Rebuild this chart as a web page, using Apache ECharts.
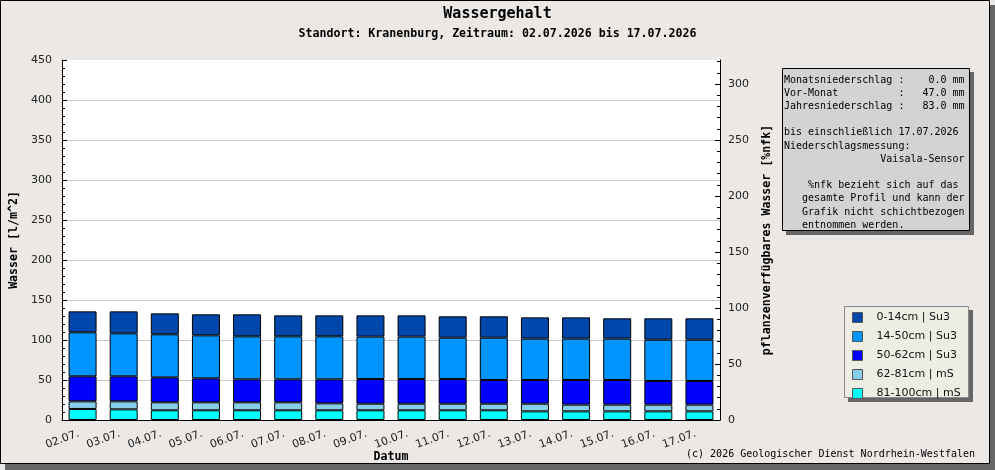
<!DOCTYPE html>
<html lang="de">
<head>
<meta charset="UTF-8">
<title>Wassergehalt</title>
<script src="https://cdn.jsdelivr.net/npm/echarts@6/dist/echarts.min.js"></script>
<style>
html, body { margin: 0; padding: 0; background: #ebe8e6; }
#main { width: 995px; height: 470px; }
</style>
</head>
<body>
<div id="main"></div>
<script>
// Kategorien (Datum)
var tage = ['02.07.', '03.07.', '04.07.', '05.07.', '06.07.', '07.07.', '08.07.', '09.07.',
            '10.07.', '11.07.', '12.07.', '13.07.', '14.07.', '15.07.', '16.07.', '17.07.'];

// Wassergehalt je Schicht [l/m^2], von unten nach oben gestapelt
var s81_100 = [13.8, 13.3, 12.1, 12.1, 12.1, 12.1, 12.1, 12.1, 12.1, 12.1, 12.1, 10.8, 10.8, 10.8, 10.8, 10.8];
var s62_81  = [9.5, 10.0, 10.0, 10.0, 10.0, 10.0, 8.7, 8.3, 8.3, 8.3, 8.3, 9.6, 8.4, 8.4, 8.4, 8.4];
var s50_62  = [31.3, 31.3, 31.2, 30.0, 28.7, 28.7, 30.0, 30.8, 30.8, 30.8, 29.6, 29.6, 30.8, 30.8, 29.6, 29.6];
var s14_50  = [55.0, 53.7, 53.8, 53.7, 53.8, 53.8, 53.8, 53.0, 53.0, 51.7, 52.9, 51.7, 51.7, 51.7, 51.6, 51.6];
var s0_14   = [26.2, 27.5, 26.2, 26.3, 27.5, 26.2, 26.2, 26.6, 26.6, 26.7, 26.7, 26.6, 26.6, 25.4, 26.7, 26.7];

// Achsenbeschriftungen rechts (%nfk)
var nfkLabels = [0, 50, 100, 150, 200, 250, 300];
var nfkMinor = [10, 20, 30, 40, 60, 70, 80, 90, 110, 120, 130, 140, 160, 170, 180, 190,
                210, 220, 230, 240, 260, 270, 280, 290, 310, 320];

var infoText = [
    'Monatsniederschlag :    0.0 mm',
    'Vor-Monat          :   47.0 mm',
    'Jahresniederschlag :   83.0 mm',
    '',
    'bis einschließlich 17.07.2026',
    'Niederschlagsmessung:',
    '                Vaisala-Sensor',
    '',
    '    %nfk bezieht sich auf das',
    '   gesamte Profil und kann der',
    '   Grafik nicht schichtbezogen',
    '   entnommen werden.'
].join('\n');

var mono = 'DejaVu Sans Mono';
var sans = 'DejaVu Sans';

var chart = echarts.init(document.getElementById('main'));

function schicht(name, data, color) {
    return {
        name: name,
        type: 'bar',
        stack: 'boden',
        barWidth: 28,
        data: data,
        itemStyle: { color: color, borderColor: '#000', borderWidth: 1 }
    };
}

chart.setOption({
    backgroundColor: 'transparent',
    animation: false,
    title: [
        {
            text: 'Wassergehalt', left: 'center', top: 7, padding: 0,
            textStyle: { fontFamily: mono, fontWeight: 'bold', fontSize: 15, color: '#000' }
        },
        {
            text: 'Standort: Kranenburg, Zeitraum: 02.07.2026 bis 17.07.2026', left: 'center', top: 28, padding: 0,
            textStyle: { fontFamily: mono, fontWeight: 'bold', fontSize: 11.6, color: '#000' }
        }
    ],
    graphic: [
        // Rahmen mit Schatten
        { type: 'rect', z: -10, shape: { x: 5, y: 5, width: 990, height: 465 }, style: { fill: '#666' } },
        { type: 'rect', z: -9, shape: { x: 0.5, y: 0.5, width: 989, height: 463 }, style: { fill: '#ebe8e6', stroke: '#000', lineWidth: 1 } },
        // Infobox
        { type: 'rect', z: 1, shape: { x: 786, y: 72, width: 188, height: 163 }, style: { fill: '#666' } },
        { type: 'rect', z: 2, shape: { x: 782.5, y: 68.5, width: 187, height: 162 }, style: { fill: '#d3d3d3', stroke: '#000', lineWidth: 1 } },
        {
            type: 'text', z: 3, left: 784, top: 73.5,
            style: { text: infoText, fontFamily: mono, fontSize: 10, lineHeight: 13.2, fill: '#000' }
        },
        // Legendenbox
        { type: 'rect', z: 1, shape: { x: 848, y: 310, width: 125, height: 92 }, style: { fill: '#666' } },
        { type: 'rect', z: 2, shape: { x: 844.5, y: 306.5, width: 124, height: 91 }, style: { fill: '#eeede4', stroke: '#888', lineWidth: 1 } },
        // Copyright
        {
            type: 'text', z: 3, right: 20, top: 449,
            style: { text: '(c) 2026 Geologischer Dienst Nordrhein-Westfalen', fontFamily: mono, fontSize: 10, fill: '#000' }
        }
    ],
    legend: {
        orient: 'vertical',
        left: 852,
        top: 312,
        padding: 0,
        itemWidth: 10,
        itemHeight: 10,
        itemGap: 8,
        icon: 'rect',
        selectedMode: false,
        data: ['0-14cm | Su3', '14-50cm | Su3', '50-62cm | Su3', '62-81cm | mS', '81-100cm | mS'],
        itemStyle: { borderColor: '#555', borderWidth: 1 },
        textStyle: { fontFamily: sans, fontSize: 11, color: '#111', lineHeight: 10, padding: [0, 0, 0, 9] }
    },
    grid: {
        left: 62, right: 275, top: 60, bottom: 50,
        outerBoundsMode: 'none',
        containLabel: false,
        show: true, backgroundColor: '#fff', borderWidth: 0
    },
    xAxis: {
        type: 'category',
        data: tage,
        name: 'Datum',
        nameLocation: 'middle',
        nameGap: 31,
        nameMoveOverlap: false,
        nameTextStyle: { fontFamily: mono, fontWeight: 'bold', fontSize: 11.6, color: '#000' },
        axisLine: { lineStyle: { color: '#000' } },
        axisTick: { inside: true, length: 5, lineStyle: { color: '#000' } },
        axisLabel: {
            rotate: 20, interval: 0, margin: 12, padding: [0, 4, 0, 0],
            fontFamily: sans, fontSize: 11, color: '#222'
        },
        splitLine: { show: false }
    },
    yAxis: [
        {
            type: 'value',
            position: 'left',
            min: 0, max: 450, interval: 50,
            name: 'Wasser [l/m^2]',
            nameLocation: 'middle',
            nameGap: 42,
            nameRotate: 90,
            nameTextStyle: { fontFamily: mono, fontWeight: 'bold', fontSize: 11.6, color: '#000' },
            axisLine: { show: true, lineStyle: { color: '#000' } },
            axisTick: { show: true, inside: true, length: 5, lineStyle: { color: '#000' } },
            minorTick: { show: true, splitNumber: 5, length: 3, lineStyle: { color: '#000' } },
            axisLabel: { margin: 10, fontFamily: sans, fontSize: 11, color: '#222' },
            splitLine: { show: true, showMaxLine: false, lineStyle: { color: '#c8c8c8' } }
        },
        {
            type: 'value',
            position: 'right',
            min: 0, max: 321.43, interval: 50,
            name: 'pflanzenverfügbares Wasser [%nfk]',
            nameLocation: 'middle',
            nameGap: 41,
            nameRotate: 90,
            nameTextStyle: { fontFamily: mono, fontWeight: 'bold', fontSize: 11.6, color: '#000' },
            axisLine: { show: true, lineStyle: { color: '#000' } },
            axisTick: { show: true, inside: true, length: 5, customValues: nfkLabels, lineStyle: { color: '#000' } },
            axisLabel: { margin: 8, customValues: nfkLabels, fontFamily: sans, fontSize: 11, color: '#222' },
            splitLine: { show: false }
        },
        {
            // Nebenstriche der %nfk-Achse
            type: 'value',
            position: 'right',
            min: 0, max: 321.43,
            axisLine: { show: false },
            axisTick: { show: true, inside: true, length: 3, customValues: nfkMinor, lineStyle: { color: '#000' } },
            axisLabel: { show: false },
            splitLine: { show: false }
        }
    ],
    series: [
        schicht('81-100cm | mS', s81_100, '#00ffff'),
        schicht('62-81cm | mS', s62_81, '#87ceeb'),
        schicht('50-62cm | Su3', s50_62, '#0000ff'),
        schicht('14-50cm | Su3', s14_50, '#0094ff'),
        schicht('0-14cm | Su3', s0_14, '#0047ab')
    ]
});
</script>
</body>
</html>
